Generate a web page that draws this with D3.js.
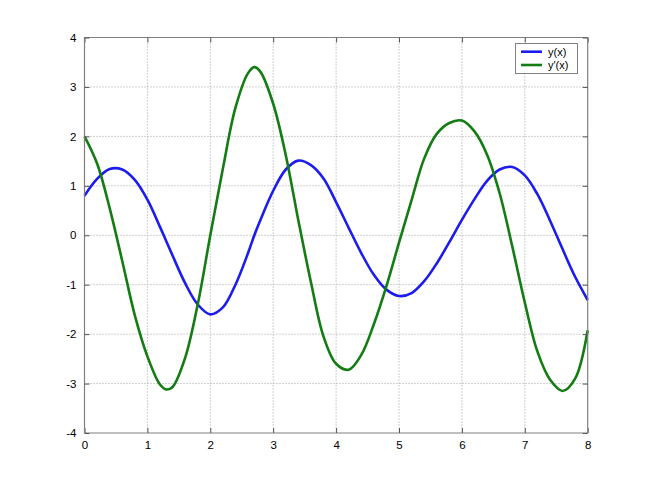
<!DOCTYPE html>
<html>
<head>
<meta charset="utf-8">
<script src="https://cdn.jsdelivr.net/npm/d3@7"></script>
<style>
  body { margin: 0; background: #fff; }
  svg { display: block; }
  text { font-family: Arial, "Liberation Sans", sans-serif; }
</style>
</head>
<body>
<svg id="chart" width="650" height="488"></svg>
<script>
// Data
const xValues = [0,0.2,0.4,0.6,0.8,1.0,1.2,1.3,1.4,1.6,1.8,2.0,2.2,2.4,2.6,2.7,2.8,3.0,3.2,3.4,3.6,3.8,4.0,
                 4.2,4.4,4.6,4.8,5.0,5.2,5.4,5.6,5.8,6.0,6.2,6.4,6.6,6.8,7.0,7.2,7.4,7.6,7.8,8.0];
const yValues = [0.80,1.14,1.34,1.33,1.12,0.72,0.17,-0.12,-0.41,-0.97,-1.40,-1.60,-1.46,-1.00,-0.36,0.00,0.32,0.90,1.33,1.51,1.42,1.15,0.67,
                 0.15,-0.36,-0.80,-1.10,-1.23,-1.17,-0.93,-0.57,-0.14,0.31,0.73,1.10,1.33,1.38,1.21,0.83,0.30,-0.28,-0.84,-1.31];
const dyValues = [2.00,1.45,0.55,-0.52,-1.62,-2.45,-3.02,-3.12,-3.07,-2.48,-1.40,0.00,1.35,2.58,3.28,3.40,3.30,2.66,1.62,0.30,-0.95,-2.05,-2.60,
                  -2.72,-2.42,-1.80,-1.03,-0.15,0.71,1.55,2.05,2.27,2.32,2.10,1.63,0.85,-0.22,-1.36,-2.35,-2.92,-3.15,-2.90,-1.92];
const xTicks = [0,1,2,3,4,5,6,7,8];
const yTicks = [-4,-3,-2,-1,0,1,2,3,4];
const seriesNames = ["y(x)", "y'(x)"];
const seriesColors = ["#1c1cee", "#137c13"];

const svg = d3.select("#chart");
const pLeft = 84.5, pRight = 587.7, pTop = 37.5, pBottom = 433;

const x = d3.scaleLinear().domain([0, 8]).range([pLeft, pRight]);
const y = d3.scaleLinear().domain([-4, 4]).range([pBottom, pTop]);

svg.append("rect").attr("x", pLeft).attr("y", pTop)
  .attr("width", pRight - pLeft).attr("height", pBottom - pTop).attr("fill", "#fff");

// Grid
const grid = svg.append("g");
grid.selectAll(".vg").data(xTicks.slice(1, -1)).enter().append("line")
  .attr("x1", d => x(d)).attr("x2", d => x(d)).attr("y1", pTop).attr("y2", pBottom)
  .attr("stroke", "#a0a0a0").attr("stroke-width", 1).attr("stroke-dasharray", "1,2");
grid.selectAll(".hg").data(yTicks.slice(1, -1)).enter().append("line")
  .attr("y1", d => y(d)).attr("y2", d => y(d)).attr("x1", pLeft).attr("x2", pRight)
  .attr("stroke", "#a0a0a0").attr("stroke-width", 1).attr("stroke-dasharray", "1,2");

// Lines
const lineGen = vals => d3.line()
  .x((d, i) => x(xValues[i])).y(d => y(d))
  .curve(d3.curveCatmullRom.alpha(0.5))(vals);

[yValues, dyValues].forEach((vals, k) => {
  svg.append("path").attr("d", lineGen(vals))
    .attr("fill", "none").attr("stroke", seriesColors[k])
    .attr("stroke-width", 2.6).attr("stroke-linejoin", "round");
});

// Axes (box with inward ticks)
const fmt = d => String(d);
const axBottom = d3.axisBottom(x).tickValues(xTicks).tickSize(-5).tickPadding(8).tickFormat(fmt);
const axTop = d3.axisTop(x).tickValues(xTicks).tickSize(-5).tickFormat("");
const axLeft = d3.axisLeft(y).tickValues(yTicks).tickSize(-5).tickPadding(8).tickFormat(fmt);
const axRight = d3.axisRight(y).tickValues(yTicks).tickSize(-5).tickFormat("");

function style(g) {
  g.select(".domain").attr("stroke", "#808080").attr("stroke-width", 1.2);
  g.selectAll(".tick line").attr("stroke", "#555").attr("stroke-width", 1);
  g.selectAll(".tick text").attr("fill", "#000").style("font-size", "11.5px")
    .style("font-family", "Arial, 'Liberation Sans', sans-serif");
}
svg.append("g").attr("transform", `translate(0,${pBottom})`).call(axBottom).call(style)
  .call(g => g.select(".domain").attr("d", `M${pLeft},0H${pRight}`));
svg.append("g").attr("transform", `translate(0,${pTop})`).call(axTop).call(style)
  .call(g => g.select(".domain").attr("d", `M${pLeft},0H${pRight}`));
svg.append("g").attr("transform", `translate(${pLeft},0)`).call(axLeft).call(style)
  .call(g => g.select(".domain").attr("d", `M0,${pTop}V${pBottom}`));
svg.append("g").attr("transform", `translate(${pRight},0)`).call(axRight).call(style)
  .call(g => g.select(".domain").attr("d", `M0,${pTop}V${pBottom}`));

// Legend
const lg = svg.append("g");
lg.append("rect").attr("x", 515.5).attr("y", 43.5).attr("width", 62).attr("height", 30)
  .attr("fill", "#fff").attr("stroke", "#808080").attr("stroke-width", 1);
seriesNames.forEach((name, k) => {
  const yy = 51.7 + k * 13.3;
  lg.append("line").attr("x1", 521).attr("x2", 542).attr("y1", yy).attr("y2", yy)
    .attr("stroke", seriesColors[k]).attr("stroke-width", 2.6);
  lg.append("text").attr("x", 548).attr("y", yy + 4).text(name)
    .attr("fill", "#000").style("font-size", "11px");
});
</script>
</body>
</html>
